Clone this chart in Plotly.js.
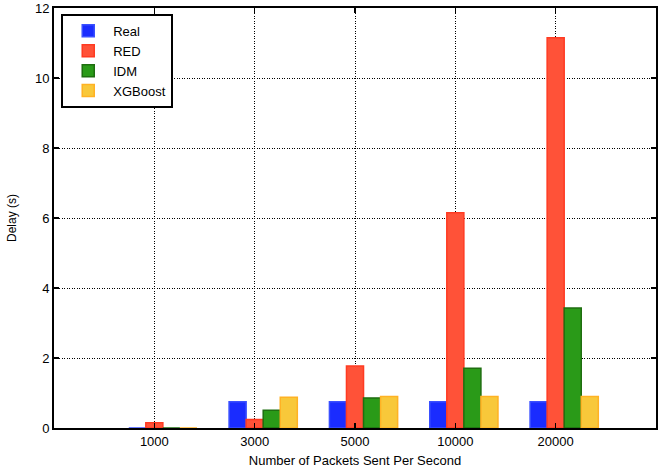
<!DOCTYPE html>
<html>
<head>
<meta charset="utf-8">
<script src="https://cdn.plot.ly/plotly-3.0.1.min.js"></script>
<style>
  html, body { margin: 0; padding: 0; background: #fff; }
  #chart { width: 658px; height: 471px; }
</style>
</head>
<body>
<div id="chart"></div>
<script>
// packets per second (categories)
const rates = ["1000", "3000", "5000", "10000", "20000"];

// delay in seconds
const realDelay = [0, 0.75, 0.75, 0.75, 0.75];
const redDelay = [0.15, 0.24, 1.77, 6.15, 11.15];
const idmDelay = [0, 0.51, 0.86, 1.71, 3.43];
const xgbDelay = [0, 0.88, 0.9, 0.9, 0.9];

const seriesNames = ["Real", "RED", "IDM", "XGBoost"];

const barW = 0.17;
const mk = (name, y, fill, edge, off) => ({
    type: "bar",
    name: name,
    x: rates,
    y: y,
    width: barW,
    offset: off,
    marker: { color: fill, line: { color: edge, width: 1.5 } },
    hoverinfo: "x+y+name"
});

const traces = [
    mk(seriesNames[0], realDelay, "#1a2cff", "#3a50ff", -1.5 * barW),
    mk(seriesNames[1], redDelay, "#ff5238", "#ff3b22", -0.5 * barW),
    mk(seriesNames[2], idmDelay, "#2a9a18", "#1f6e10", 0.5 * barW),
    mk(seriesNames[3], xgbDelay, "#f8c83a", "#ffb224", 1.5 * barW)
];

const fnt = "Liberation Sans, Arial, sans-serif";
const axisCommon = {
    showline: true,
    linecolor: "#000",
    linewidth: 2,
    mirror: "ticks",
    ticks: "inside",
    ticklen: 5,
    tickwidth: 1.5,
    tickcolor: "#000",
    showgrid: true,
    gridcolor: "#000",
    gridwidth: 1,
    griddash: "1px,1.5px",
    zeroline: false,
    tickfont: { family: fnt, size: 13, color: "#000" }
};

const layout = {
    width: 658,
    height: 471,
    margin: { l: 54, r: 2, t: 8, b: 43 },
    paper_bgcolor: "#fff",
    plot_bgcolor: "#fff",
    barmode: "overlay",
    showlegend: true,
    legend: {
        x: 0.012, y: 0.986, xanchor: "left", yanchor: "top",
        bgcolor: "#fff", bordercolor: "#000", borderwidth: 2,
        font: { family: fnt, size: 13, color: "#000" },
        itemwidth: 40,
        tracegroupgap: 0
    },
    xaxis: Object.assign({}, axisCommon, {
        type: "category",
        range: [-1, 5],
        ticklabelstandoff: 0,
        title: { text: "Number of Packets Sent Per Second", standoff: 8,
            font: { family: fnt, size: 13, color: "#000" } }
    }),
    yaxis: Object.assign({}, axisCommon, {
        range: [0, 12],
        dtick: 2,
        title: { text: "Delay (s)", standoff: 16,
            font: { family: fnt, size: 12, color: "#000" } }
    })
};

Plotly.newPlot("chart", traces, layout, { displayModeBar: false, staticPlot: true });
</script>
</body>
</html>
